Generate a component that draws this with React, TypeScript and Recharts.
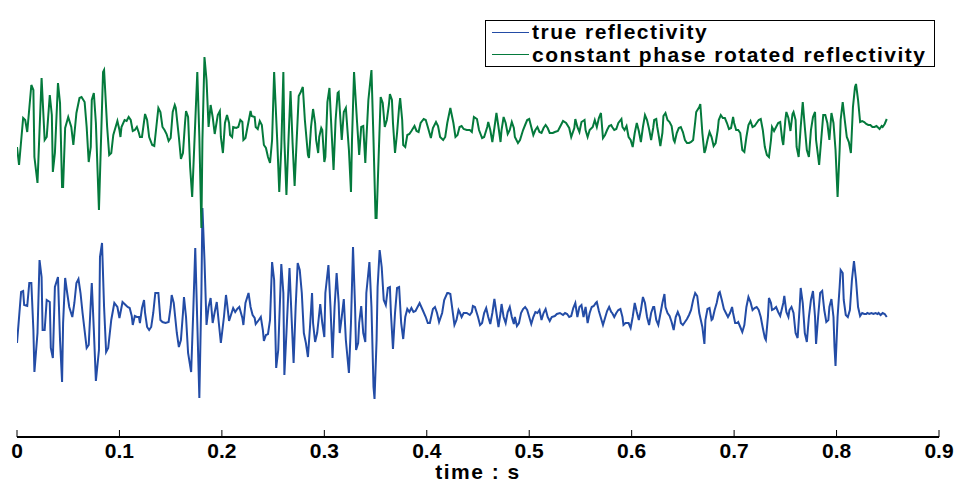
import { LineChart, Line, XAxis, YAxis, Legend } from 'recharts';

// time (s) and amplitude of the true reflectivity trace
const blueTime = [
  0, 0.004, 0.006, 0.007, 0.01, 0.012, 0.014, 0.016, 0.017, 0.02, 0.022, 0.024, 0.025, 0.027, 0.029, 0.032, 0.033, 0.035, 0.037, 0.04,
  0.042, 0.044, 0.045, 0.047, 0.049, 0.051, 0.054, 0.056, 0.058, 0.06, 0.062, 0.064, 0.068, 0.07, 0.072, 0.073, 0.075, 0.077, 0.08, 0.081,
  0.083, 0.085, 0.087, 0.089, 0.092, 0.095, 0.098, 0.1, 0.103, 0.106, 0.108, 0.11, 0.112, 0.113, 0.115, 0.117, 0.119, 0.12, 0.122, 0.124,
  0.125, 0.127, 0.129, 0.131, 0.133, 0.135, 0.138, 0.14, 0.142, 0.145, 0.148, 0.15, 0.151, 0.153, 0.156, 0.158, 0.16, 0.162, 0.163, 0.165,
  0.167, 0.17, 0.172, 0.174, 0.176, 0.178, 0.18, 0.181, 0.183, 0.185, 0.187, 0.189, 0.191, 0.193, 0.195, 0.197, 0.199, 0.202, 0.204, 0.205,
  0.207, 0.211, 0.213, 0.215, 0.217, 0.22, 0.221, 0.223, 0.226, 0.228, 0.23, 0.232, 0.233, 0.236, 0.238, 0.24, 0.241, 0.243, 0.245, 0.247,
  0.249, 0.251, 0.253, 0.255, 0.258, 0.26, 0.261, 0.263, 0.266, 0.268, 0.27, 0.272, 0.274, 0.276, 0.278, 0.28, 0.282, 0.284, 0.286, 0.288,
  0.289, 0.291, 0.293, 0.296, 0.298, 0.3, 0.301, 0.304, 0.306, 0.308, 0.31, 0.312, 0.314, 0.315, 0.317, 0.319, 0.321, 0.324, 0.326, 0.328,
  0.33, 0.331, 0.333, 0.334, 0.336, 0.338, 0.34, 0.341, 0.344, 0.346, 0.348, 0.349, 0.351, 0.352, 0.354, 0.356, 0.358, 0.36, 0.362, 0.364,
  0.365, 0.367, 0.369, 0.371, 0.373, 0.375, 0.377, 0.379, 0.381, 0.383, 0.385, 0.387, 0.389, 0.391, 0.393, 0.396, 0.399, 0.401, 0.403, 0.406,
  0.408, 0.41, 0.412, 0.415, 0.417, 0.42, 0.421, 0.423, 0.427, 0.429, 0.431, 0.432, 0.434, 0.436, 0.439, 0.442, 0.444, 0.445, 0.447, 0.45,
  0.452, 0.454, 0.456, 0.458, 0.46, 0.462, 0.464, 0.466, 0.468, 0.47, 0.472, 0.473, 0.475, 0.477, 0.479, 0.481, 0.483, 0.485, 0.486, 0.488,
  0.49, 0.492, 0.494, 0.496, 0.498, 0.5, 0.502, 0.504, 0.506, 0.508, 0.51, 0.512, 0.514, 0.516, 0.518, 0.52, 0.522, 0.525, 0.527, 0.53,
  0.533, 0.535, 0.537, 0.539, 0.541, 0.543, 0.545, 0.547, 0.549, 0.551, 0.553, 0.555, 0.557, 0.559, 0.561, 0.563, 0.565, 0.566, 0.568, 0.57,
  0.572, 0.574, 0.576, 0.578, 0.58, 0.581, 0.583, 0.585, 0.587, 0.589, 0.591, 0.592, 0.594, 0.595, 0.597, 0.599, 0.601, 0.603, 0.605, 0.607,
  0.609, 0.611, 0.613, 0.615, 0.617, 0.619, 0.621, 0.622, 0.624, 0.626, 0.628, 0.63, 0.632, 0.633, 0.635, 0.637, 0.639, 0.641, 0.643, 0.645,
  0.647, 0.648, 0.65, 0.652, 0.654, 0.656, 0.658, 0.66, 0.662, 0.664, 0.666, 0.669, 0.671, 0.672, 0.674, 0.676, 0.678, 0.679, 0.681, 0.683,
  0.685, 0.686, 0.688, 0.69, 0.692, 0.694, 0.696, 0.698, 0.699, 0.701, 0.703, 0.704, 0.706, 0.708, 0.71, 0.712, 0.714, 0.716, 0.718, 0.72,
  0.722, 0.724, 0.726, 0.728, 0.73, 0.731, 0.733, 0.734, 0.736, 0.737, 0.739, 0.741, 0.743, 0.745, 0.748, 0.749, 0.751, 0.753, 0.754, 0.756,
  0.758, 0.76, 0.762, 0.764, 0.765, 0.767, 0.769, 0.771, 0.773, 0.775, 0.777, 0.779, 0.78, 0.782, 0.784, 0.786, 0.788, 0.79, 0.792, 0.793,
  0.795, 0.797, 0.798, 0.799, 0.801, 0.803, 0.804, 0.806, 0.807, 0.809, 0.811, 0.813, 0.815, 0.817, 0.819, 0.821, 0.823, 0.825, 0.827, 0.829,
  0.83, 0.832, 0.834, 0.836, 0.838, 0.84, 0.841, 0.843, 0.845, 0.847, 0.849,
];
const blueValue = [
  -0.28, 0.23, 0.24, 0.1, 0.09, 0.32, 0.32, -0.15, -0.57, -0.18, 0.55, 0.38, -0.15, -0.15, 0.15, 0.13, -0.33, -0.43, 0.28, 0.38,
  -0.25, -0.67, -0.08, 0.37, 0.22, 0.08, -0.02, 0.12, 0.32, 0.36, 0.22, 0.02, -0.33, -0.3, 0.12, 0.32, -0.15, -0.66, -0.35, 0.58,
  0.72, 0.08, -0.37, -0.33, -0.05, 0.12, 0.08, -0.03, 0.13, 0.1, 0.08, 0.07, -0.01, -0.1, -0.01, -0.02, -0.02, -0.08, 0.07, 0.15,
  0.02, -0.12, -0.15, -0.12, 0.02, 0.22, 0.22, -0.05, -0.07, -0.08, -0.07, 0.08, 0.2, 0.12, -0.18, -0.32, -0.25, 0.02, 0.18, -0.02,
  -0.38, -0.57, 0.02, 0.67, -0.08, -0.83, 0.22, 1.07, 0.55, -0.1, 0.08, 0.17, -0.08, 0.03, 0.13, -0.08, -0.28, -0.02, 0.2, 0.12,
  -0.06, 0.07, 0.03, 0.06, 0.08, -0.03, -0.1, 0.12, 0.22, 0.08, 0, -0.03, -0.09, -0.05, -0.02, -0.15, -0.26, -0.2, -0.19, -0.05,
  0.53, 0.35, -0.53, -0.35, 0.51, 0.22, -0.6, -0.18, 0.47, -0.02, -0.48, 0.08, 0.52, 0.45, 0.22, -0.18, -0.28, -0.42, -0.12, 0.22,
  -0.08, -0.27, -0.18, 0.11, -0.08, -0.22, 0.22, 0.5, 0.08, -0.43, 0.08, 0.42, 0.12, -0.18, -0.02, 0.16, -0.25, -0.58, -0.08, 0.68,
  0.08, -0.35, -0.28, -0.08, 0.09, -0.18, -0.27, 0.22, 0.53, 0.08, -0.72, -0.84, -0.25, 0.28, 0.65, 0.48, 0.15, 0.1, 0.27, 0.28,
  0.02, -0.34, 0.02, 0.27, 0.28, -0.08, -0.24, -0.02, 0.06, 0.03, 0.07, 0.03, 0.04, 0.08, 0.12, 0.05, -0.02, -0.08, -0.08, 0.06,
  0.08, 0.02, -0.07, 0.02, 0.15, 0.22, 0.22, 0.21, -0.1, -0.05, 0.05, 0.03, -0.02, 0.02, 0.02, 0, 0.03, 0.09, 0.08, -0.02,
  -0.1, -0.08, 0.02, 0.07, -0.02, -0.09, 0.02, 0.16, 0.02, -0.12, 0.02, 0.11, -0.02, -0.08, 0.03, 0.08, -0.02, -0.09, -0.02, -0.11,
  -0.08, 0.02, 0.06, 0.08, 0.05, -0.02, -0.09, -0.02, 0.03, 0.02, 0.05, -0.05, 0.02, 0.06, -0.02, -0.06, -0.02, -0.01, 0.01, 0.02,
  0, 0.02, 0.01, -0.02, -0.01, 0.07, 0.12, -0.02, 0.08, 0.1, -0.02, 0.08, -0.08, 0.02, 0.08, 0.09, 0.12, 0.13, 0.04, -0.03,
  -0.1, -0.03, 0.04, 0.08, 0.03, 0.02, -0.02, 0.02, 0.05, 0.06, -0.02, -0.1, -0.08, -0.08, -0.08, -0.13, -0.02, 0.12, 0.03, -0.05,
  0.05, 0.18, 0.12, -0.02, -0.1, 0.02, 0.08, 0.08, -0.05, -0.1, 0.01, 0.12, 0.21, 0.08, 0.02, -0.01, -0.07, -0.15, -0.02, 0.03,
  -0.02, -0.08, -0.1, -0.07, -0.04, 0, 0.05, 0.15, 0.22, 0.19, 0.02, -0.12, -0.29, -0.05, 0.06, 0.07, -0.05, -0.04, 0.05, 0.12,
  0.22, 0.23, 0.15, 0.06, 0.02, -0.02, 0.02, 0.08, 0.02, -0.08, -0.08, -0.07, -0.12, -0.17, -0.1, 0.08, 0.18, 0.13, 0.05, 0.07,
  0.08, 0.05, -0.02, -0.13, -0.23, -0.25, -0.02, 0.17, 0.12, 0.05, 0.06, 0.08, 0.03, -0.01, 0.12, 0.19, 0.03, -0.02, 0.05, 0.08,
  0.02, -0.18, -0.23, 0.08, 0.27, 0.12, -0.18, -0.27, -0.02, 0.15, 0.24, -0.02, -0.29, -0.02, 0.22, 0.24, 0.05, -0.07, -0.05, 0.08,
  0.16, -0.02, -0.32, -0.51, -0.02, 0.28, 0.45, 0.42, 0.15, 0, -0.02, 0.05, 0.35, 0.54, 0.35, 0.08, -0.01, 0.02, 0.01, 0.01,
  0.02, 0.01, 0.02, 0.01, 0.02, 0.01, 0.02, 0, 0.02, 0.01, -0.02,
];

// time (s) and amplitude of the constant phase rotated trace
const greenTime = [
  0, 0.002, 0.006, 0.008, 0.01, 0.014, 0.016, 0.017, 0.02, 0.024, 0.027, 0.029, 0.032, 0.034, 0.035, 0.037, 0.04, 0.042, 0.044, 0.045,
  0.047, 0.05, 0.053, 0.055, 0.058, 0.061, 0.063, 0.066, 0.068, 0.07, 0.072, 0.073, 0.075, 0.077, 0.08, 0.084, 0.085, 0.088, 0.09, 0.092,
  0.094, 0.098, 0.1, 0.101, 0.102, 0.105, 0.107, 0.109, 0.111, 0.113, 0.115, 0.117, 0.119, 0.12, 0.122, 0.125, 0.127, 0.129, 0.132, 0.134,
  0.136, 0.138, 0.14, 0.142, 0.144, 0.146, 0.148, 0.15, 0.152, 0.154, 0.155, 0.158, 0.16, 0.162, 0.164, 0.165, 0.167, 0.169, 0.171, 0.173,
  0.176, 0.178, 0.18, 0.181, 0.183, 0.185, 0.187, 0.189, 0.191, 0.193, 0.196, 0.198, 0.199, 0.201, 0.203, 0.205, 0.207, 0.208, 0.21, 0.211,
  0.214, 0.216, 0.218, 0.22, 0.221, 0.223, 0.225, 0.228, 0.229, 0.232, 0.233, 0.235, 0.237, 0.239, 0.241, 0.243, 0.245, 0.247, 0.249, 0.251,
  0.254, 0.256, 0.258, 0.26, 0.261, 0.263, 0.265, 0.267, 0.269, 0.271, 0.273, 0.275, 0.277, 0.279, 0.281, 0.284, 0.285, 0.287, 0.289, 0.291,
  0.292, 0.294, 0.295, 0.297, 0.298, 0.3, 0.301, 0.303, 0.305, 0.307, 0.309, 0.311, 0.313, 0.314, 0.317, 0.319, 0.321, 0.324, 0.326, 0.327,
  0.329, 0.332, 0.334, 0.336, 0.338, 0.34, 0.341, 0.343, 0.346, 0.348, 0.35, 0.351, 0.353, 0.355, 0.357, 0.359, 0.361, 0.363, 0.364, 0.366,
  0.367, 0.369, 0.371, 0.373, 0.374, 0.376, 0.377, 0.379, 0.381, 0.383, 0.385, 0.388, 0.39, 0.392, 0.394, 0.397, 0.399, 0.401, 0.404, 0.406,
  0.409, 0.411, 0.413, 0.416, 0.418, 0.42, 0.423, 0.426, 0.428, 0.43, 0.432, 0.434, 0.436, 0.439, 0.442, 0.444, 0.446, 0.449, 0.451, 0.454,
  0.456, 0.459, 0.46, 0.462, 0.464, 0.466, 0.468, 0.47, 0.472, 0.473, 0.475, 0.477, 0.479, 0.481, 0.483, 0.485, 0.486, 0.489, 0.491, 0.494,
  0.496, 0.498, 0.5, 0.502, 0.504, 0.506, 0.508, 0.51, 0.512, 0.514, 0.516, 0.518, 0.52, 0.523, 0.525, 0.528, 0.53, 0.533, 0.536, 0.539,
  0.541, 0.544, 0.545, 0.547, 0.549, 0.551, 0.554, 0.555, 0.557, 0.559, 0.562, 0.564, 0.566, 0.568, 0.57, 0.572, 0.574, 0.576, 0.578, 0.58,
  0.581, 0.583, 0.585, 0.587, 0.59, 0.591, 0.593, 0.595, 0.597, 0.599, 0.601, 0.603, 0.605, 0.607, 0.609, 0.611, 0.613, 0.615, 0.617, 0.619,
  0.621, 0.622, 0.624, 0.625, 0.626, 0.628, 0.63, 0.631, 0.633, 0.635, 0.637, 0.639, 0.641, 0.642, 0.644, 0.646, 0.648, 0.65, 0.652, 0.654,
  0.656, 0.658, 0.66, 0.662, 0.663, 0.666, 0.667, 0.669, 0.671, 0.672, 0.674, 0.676, 0.678, 0.68, 0.682, 0.684, 0.685, 0.687, 0.689, 0.691,
  0.693, 0.695, 0.697, 0.699, 0.7, 0.702, 0.704, 0.706, 0.708, 0.71, 0.712, 0.714, 0.716, 0.718, 0.72, 0.722, 0.724, 0.726, 0.728, 0.73,
  0.732, 0.734, 0.736, 0.737, 0.739, 0.741, 0.743, 0.745, 0.747, 0.748, 0.75, 0.751, 0.753, 0.755, 0.757, 0.758, 0.76, 0.761, 0.763, 0.765,
  0.767, 0.769, 0.771, 0.773, 0.775, 0.777, 0.779, 0.78, 0.783, 0.785, 0.787, 0.789, 0.791, 0.793, 0.795, 0.797, 0.799, 0.801, 0.803, 0.804,
  0.806, 0.808, 0.81, 0.812, 0.814, 0.816, 0.818, 0.819, 0.821, 0.823, 0.825, 0.827, 0.829, 0.831, 0.833, 0.835, 0.837, 0.839, 0.84, 0.842,
  0.844, 0.845, 0.847, 0.849,
];
const greenValue = [
  -0.2, -0.38, 0.09, 0.07, -0.05, 0.42, 0.37, -0.3, -0.56, 0.49, -0.13, -0.1, 0.32, 0.12, -0.45, -0.26, 0.44, 0.24, -0.6, -0.6,
  -0.01, 0.1, 0, -0.18, 0.14, 0.29, 0.3, 0.25, 0, -0.35, -0.2, 0.27, 0.34, 0.04, -0.83, 0.55, 0.57, 0, -0.28, -0.26,
  -0.08, 0.06, -0.03, -0.1, 0, 0.07, 0.06, 0.1, 0.07, -0.04, -0.03, 0, -0.06, -0.1, -0.1, 0.13, 0.07, -0.1, -0.18, -0.19,
  0, 0.19, 0.15, 0, -0.03, -0.07, -0.14, -0.11, 0.15, 0.22, 0.19, -0.1, -0.32, -0.26, 0.04, 0.16, 0.1, -0.4, -0.7, -0.2,
  0.55, -0.1, -1.01, -0.13, 0.7, 0.47, 0, 0.22, 0.1, -0.07, 0.12, 0.16, -0.1, -0.26, 0.04, 0.12, 0.04, -0.08, -0.1, 0,
  -0.01, 0, 0.07, 0.05, -0.13, -0.11, 0, 0.16, 0.11, 0.1, 0, -0.02, 0.06, 0.02, -0.18, -0.21, -0.3, -0.36, -0.13, 0.55,
  -0.13, -0.65, -0.2, 0.55, -0.13, -0.68, -0.13, 0.36, -0.16, -0.59, -0.13, 0.31, 0.35, 0.4, 0.07, -0.28, -0.31, 0, 0.18, 0.04,
  -0.13, -0.26, -0.1, -0.01, -0.03, -0.35, -0.3, 0.25, 0.39, -0.03, -0.43, 0.07, 0.34, 0.35, -0.13, 0.15, 0.19, -0.23, -0.65, -0.13,
  0.55, 0.04, -0.28, 0, 0.01, -0.36, -0.13, 0.27, 0.57, -0.13, -0.91, -0.91, -0.3, 0.3, 0.24, 0, 0.07, 0.22, 0.33, 0.27,
  0.04, -0.26, -0.06, 0.2, 0.29, 0.07, -0.18, -0.2, -0.08, -0.07, -0.04, 0.01, -0.04, -0.05, 0.04, 0.08, 0.07, 0, -0.11, -0.01,
  0.05, 0.01, -0.1, -0.13, -0.1, 0.04, 0.19, 0.04, -0.1, -0.08, 0, 0.01, -0.02, -0.03, -0.03, -0.05, 0.1, 0.08, -0.03, -0.11,
  -0.1, 0, 0.05, -0.03, -0.15, -0.01, 0.14, 0, -0.15, -0.03, 0.1, 0.04, -0.07, -0.03, 0.05, -0.01, -0.1, -0.16, -0.13, -0.03,
  0.02, 0.07, 0.08, 0, -0.08, -0.03, 0, -0.05, -0.06, -0.01, 0.02, -0.01, -0.06, -0.06, -0.05, -0.04, 0, 0.06, 0.04, -0.01,
  -0.1, -0.01, 0.08, 0, -0.05, 0.05, 0.07, -0.03, -0.1, -0.03, 0, 0.07, 0, 0.09, 0.14, -0.11, -0.08, -0.03, 0.01, 0.02,
  0, -0.03, -0.02, 0.04, 0.08, 0, -0.03, 0.01, -0.1, -0.13, -0.2, -0.06, 0.04, -0.04, -0.15, 0, 0.12, 0.07, -0.02, -0.13,
  -0.01, 0.07, 0.08, 0, -0.06, -0.19, -0.06, 0.11, 0.14, 0.07, 0.05, 0.01, -0.13, -0.15, -0.06, -0.01, 0, -0.05, -0.13, -0.16,
  -0.16, -0.15, -0.13, 0.05, 0.15, 0.2, 0.23, -0.06, -0.26, -0.23, -0.13, -0.05, -0.1, -0.19, -0.16, -0.03, 0.07, 0.12, 0.09, 0.09,
  0.04, -0.02, -0.01, 0.1, 0.04, -0.03, -0.03, -0.06, -0.23, -0.25, -0.1, 0.02, 0.06, 0, 0.01, 0.04, 0.07, 0.08, -0.03, -0.2,
  -0.28, -0.3, -0.13, 0, -0.04, 0, 0.04, 0.05, -0.13, -0.18, 0.07, 0.15, 0.09, -0.04, 0.13, 0.15, 0.07, -0.2, -0.3, 0,
  0.25, 0, -0.23, -0.3, -0.03, 0.1, 0.15, -0.13, -0.38, -0.13, 0.12, 0.12, 0.04, -0.13, 0.14, 0.04, -0.23, -0.7, -0.23, 0.07,
  0.25, 0.07, -0.1, -0.15, -0.26, 0.2, 0.4, 0.43, 0.27, 0.05, 0.06, 0.05, 0.03, 0.02, 0.02, 0, 0, 0.01, 0, -0.02,
  0.01, 0, 0.03, 0.08,
];

const timeTicks = [0, 0.1, 0.2, 0.3, 0.4, 0.5, 0.6, 0.7, 0.8, 0.9];
const seriesNames = ['true reflectivity', 'constant phase rotated reflectivity'];
const seriesColors = ['#234ca6', '#047a3c'];
// vertical shift so the rotated trace sits above the true one
const GREEN_OFFSET = 1.88;

const FONT = '"Liberation Sans", Arial, Helvetica, sans-serif';

const blueData = blueTime.map((t, i) => ({ t, v: blueValue[i] }));
const greenData = greenTime.map((t, i) => ({ t, v: greenValue[i] + GREEN_OFFSET }));

function BottomTick({ x, y, payload }: any) {
  return (
    <g>
      <line x1={x} y1={y} x2={x} y2={y - 7} stroke="#000" strokeWidth={1} />
      <text x={x} y={y + 21} textAnchor="middle" fontFamily={FONT} fontWeight="bold" fontSize={21} fill="#000">
        {payload.value}
      </text>
    </g>
  );
}

function TopTick({ x, y }: any) {
  return <line x1={x} y1={y} x2={x} y2={y + 6} stroke="#000" strokeWidth={1} />;
}

function AxisTitle({ viewBox }: any) {
  const cx = viewBox.x + viewBox.width / 2;
  return (
    <text x={cx} y={viewBox.y + 42} textAnchor="middle" fontFamily={FONT} fontWeight="bold" fontSize={21} letterSpacing={1.5} fill="#000">
      time : s
    </text>
  );
}

function LegendBox({ payload }: any) {
  // keep the plotting order (true first) instead of alphabetical
  const items = [...(payload || [])].sort(
    (a: any, b: any) => seriesNames.indexOf(a.value) - seriesNames.indexOf(b.value)
  );
  return (
    <div
      style={{
        boxSizing: 'border-box',
        width: 450,
        height: 47,
        border: '1.3px solid #000',
        background: '#fff',
        paddingTop: 0,
        fontFamily: FONT,
        fontWeight: 'bold',
        fontSize: 21,
        letterSpacing: 1.5,
        color: '#000',
      }}
    >
      {items.map((entry: any) => (
        <div key={entry.value} style={{ display: 'flex', alignItems: 'center', height: 22.5, lineHeight: '22px' }}>
          <span style={{ display: 'inline-block', width: 37, borderTop: `1.2px solid ${entry.color}`, marginLeft: 6, marginRight: 3 }} />
          <span>{entry.value}</span>
        </div>
      ))}
    </div>
  );
}

export default function App() {
  return (
    <div style={{ position: 'absolute', left: 0, top: 0, width: 958, height: 485, background: '#fff' }}>
      <LineChart width={958} height={485} margin={{ top: 7, right: 19, bottom: 0, left: 17 }}>
        <XAxis
          dataKey="t"
          type="number"
          domain={[0, 0.9]}
          ticks={timeTicks}
          interval={0}
          height={48}
          tickSize={0}
          tickMargin={0}
          tickLine={false}
          tick={<BottomTick />}
          axisLine={{ stroke: '#000', strokeWidth: 2 }}
          allowDataOverflow
          label={{ content: <AxisTitle /> }}
        />
        <XAxis
          xAxisId="top"
          dataKey="t"
          type="number"
          orientation="top"
          domain={[0, 0.9]}
          ticks={timeTicks}
          interval={0}
          height={0}
          tickSize={0}
          tickMargin={0}
          tickLine={false}
          tick={<TopTick />}
          axisLine={{ stroke: '#000', strokeWidth: 1.2 }}
          allowDataOverflow
        />
        <YAxis
          yAxisId="l"
          type="number"
          domain={[-1.22, 3.08]}
          width={0}
          tick={false}
          tickLine={false}
          axisLine={{ stroke: '#000', strokeWidth: 2 }}
          allowDataOverflow
        />
        <YAxis
          yAxisId="r"
          orientation="right"
          type="number"
          domain={[-1.22, 3.08]}
          width={0}
          tick={false}
          tickLine={false}
          axisLine={{ stroke: '#000', strokeWidth: 1.2 }}
          allowDataOverflow
        />
        <Legend
          layout="vertical"
          align="center"
          verticalAlign="middle"
          content={<LegendBox />}
          wrapperStyle={{ left: 485, top: 20, width: 450, height: 47 }}
        />
        <Line
          data={blueData}
          yAxisId="l"
          dataKey="v"
          name={seriesNames[0]}
          type="linear"
          stroke={seriesColors[0]}
          strokeWidth={2}
          dot={false}
          activeDot={false}
          isAnimationActive={false}
        />
        <Line
          data={greenData}
          yAxisId="l"
          dataKey="v"
          name={seriesNames[1]}
          type="linear"
          stroke={seriesColors[1]}
          strokeWidth={2}
          dot={false}
          activeDot={false}
          isAnimationActive={false}
        />
      </LineChart>
    </div>
  );
}
